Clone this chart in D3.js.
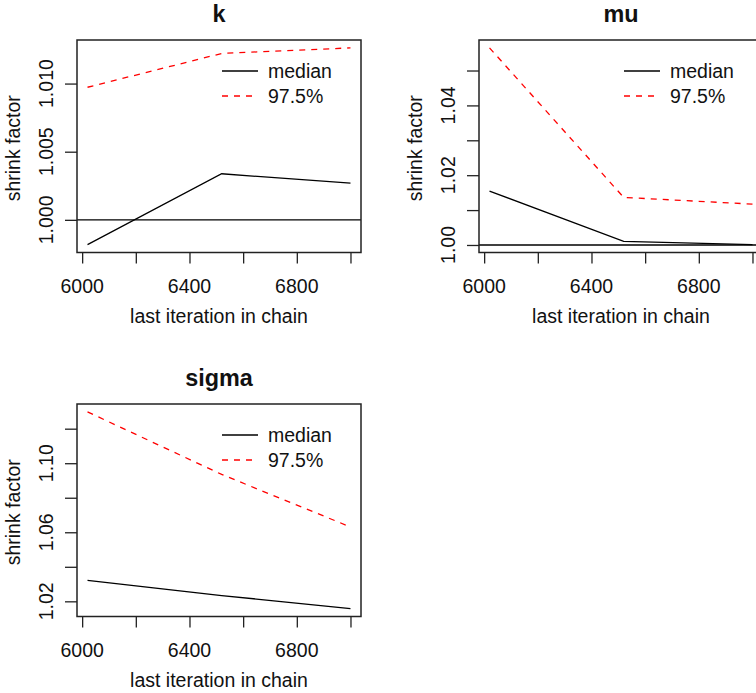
<!DOCTYPE html>
<html><head><meta charset="utf-8">
<script src="https://cdn.jsdelivr.net/npm/d3@7"></script>
<style>
html,body{margin:0;padding:0;background:#fff;}
text{font-family:"Liberation Sans",Arial,Helvetica,sans-serif;fill:#111;}
</style></head>
<body>
<svg id="chart" width="756" height="693"></svg>
<script>
// ---- data ----
const iterations = [6020, 6520, 7000];
const kMedian = [0.99818, 1.00338, 1.00269];
const kUpper = [1.00973, 1.01221, 1.01262];
const muMedian = [1.01543, 1.00105, 1.0001];
const muUpper = [1.05649, 1.01363, 1.01171];
const sigmaMedian = [1.03217, 1.02336, 1.01577];
const sigmaUpper = [1.12974, 1.0935, 1.06307];

const xTicks = [6000, 6200, 6400, 6600, 6800, 7000];
const xTickLabels = [6000, 6400, 6800];
const kYTicks = [1.000, 1.005, 1.010];
const kYLabels = ["1.000", "1.005", "1.010"];
const muYTicks = [1.00, 1.01, 1.02, 1.03, 1.04, 1.05];
const muYLabels = ["1.00", "1.02", "1.04"];
const sigmaYTicks = [1.02, 1.04, 1.06, 1.08, 1.10, 1.12];
const sigmaYLabels = ["1.02", "1.06", "1.10"];
const legendLabels = ["median", "97.5%"];

const panels = [
  {title: "k", median: kMedian, upper: kUpper, yTicks: kYTicks, yLabels: kYLabels, left: 77, top: 40},
  {title: "mu", median: muMedian, upper: muUpper, yTicks: muYTicks, yLabels: muYLabels, left: 479, top: 40},
  {title: "sigma", median: sigmaMedian, upper: sigmaUpper, yTicks: sigmaYTicks, yLabels: sigmaYLabels, left: 77, top: 404}
];

const W = 284, H = 212.5;
const FS = 19.5;
const svg = d3.select("#chart");

function padExtent(arr) {
  const e = d3.extent(arr);
  const d = (e[1] - e[0]) * 0.04;
  return [e[0] - d, e[1] + d];
}

panels.forEach((p, i) => {
  const g = svg.append("g").attr("transform", `translate(${p.left},${p.top})`);
  const x = d3.scaleLinear().domain(padExtent(iterations)).range([0, W]);
  const y = d3.scaleLinear().domain(padExtent(p.median.concat(p.upper))).range([H, 0]);

  const clipId = "clip" + i;
  g.append("clipPath").attr("id", clipId).append("rect").attr("width", W).attr("height", H);

  const plot = g.append("g").attr("clip-path", `url(#${clipId})`);
  const line = d3.line().x((d, j) => x(iterations[j])).y(d => y(d));

  // reference line at 1
  plot.append("line").attr("x1", 0).attr("x2", W).attr("y1", y(1)).attr("y2", y(1))
    .attr("stroke", "#000").attr("stroke-width", 1.3);

  plot.append("path").datum(p.median).attr("d", line).attr("fill", "none")
    .attr("stroke", "#000").attr("stroke-width", 1.3);
  plot.append("path").datum(p.upper).attr("d", line).attr("fill", "none")
    .attr("stroke", "#ff0000").attr("stroke-width", 1.3).attr("stroke-dasharray", "6,6");

  // box
  g.append("rect").attr("width", W).attr("height", H).attr("fill", "none")
    .attr("stroke", "#222").attr("stroke-width", 1.5);

  // x axis
  const xa = g.append("g").attr("transform", `translate(0,${H})`)
    .call(d3.axisBottom(x).tickValues(xTicks).tickSizeInner(11).tickSizeOuter(0).tickFormat(""));
  xa.select(".domain").remove();
  xa.selectAll("line").attr("stroke", "#222").attr("stroke-width", 1.3);
  g.selectAll(".xlab").data(xTickLabels).enter().append("text")
    .attr("x", d => x(d)).attr("y", H + 40).attr("text-anchor", "middle")
    .attr("font-size", FS).text(d => d);

  // y axis
  const ya = g.append("g")
    .call(d3.axisLeft(y).tickValues(p.yTicks).tickSizeInner(12).tickSizeOuter(0).tickFormat(""));
  ya.select(".domain").remove();
  ya.selectAll("line").attr("stroke", "#222").attr("stroke-width", 1.3);
  g.selectAll(".ylab").data(p.yLabels).enter().append("text")
    .attr("transform", d => `translate(-24,${y(+d)}) rotate(-90)`)
    .attr("text-anchor", "middle").attr("font-size", FS).text(d => d);

  // axis titles
  g.append("text").attr("x", W / 2).attr("y", H + 70).attr("text-anchor", "middle")
    .attr("font-size", FS).text("last iteration in chain");
  g.append("text").attr("transform", `translate(-57,${H / 2 + 2}) rotate(-90)`)
    .attr("text-anchor", "middle").attr("font-size", FS).text("shrink factor");

  // title
  g.append("text").attr("x", W / 2).attr("y", -18.5).attr("text-anchor", "middle")
    .attr("font-size", 23.4).attr("font-weight", "bold").text(p.title);

  // legend
  const lg = g.append("g").attr("transform", "translate(145,31)");
  legendLabels.forEach((lab, j) => {
    const yy = j * 25;
    lg.append("line").attr("x1", 0).attr("x2", 36).attr("y1", yy).attr("y2", yy)
      .attr("stroke", j === 0 ? "#000" : "#ff0000").attr("stroke-width", 1.3)
      .attr("stroke-dasharray", j === 0 ? null : "6,6");
    lg.append("text").attr("x", 46).attr("y", yy).attr("dy", "0.36em")
      .attr("font-size", FS).text(lab);
  });
});
</script>
</body></html>
